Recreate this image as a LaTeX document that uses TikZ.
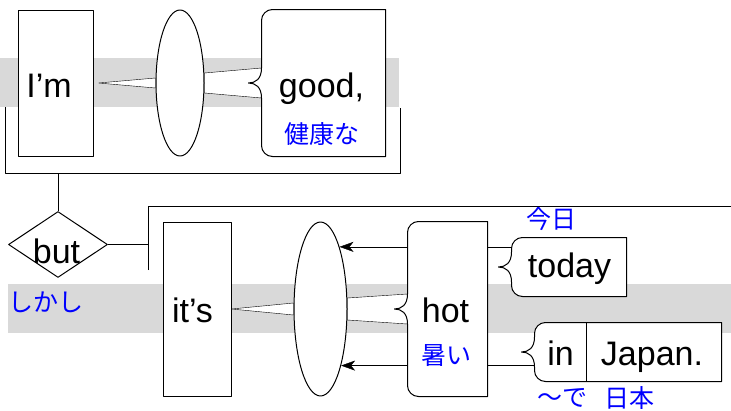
\documentclass[tikz,border=0pt]{standalone}
\usepackage{fontspec}
\setmainfont{Liberation Sans}
\newfontfamily\jafont{Noto Sans CJK JP}
\usetikzlibrary{shapes.geometric,arrows.meta,backgrounds}

\newcommand{\wordfont}{\fontsize{34}{40}\selectfont}
\newcommand{\glossfont}{\jafont\fontsize{25}{30}\selectfont}

% outline of a modifier box: rounded left corners, brace notch on the left
\newcommand{\bracebox}[2]{%
  \draw[fill=white] (#2.north east) -- ([xshift=11pt]#1.north west)
    to[out=180,in=90] ([yshift=-11pt]#1.north west)
    -- ([yshift=15pt]#1.west)
    .. controls ([yshift=4pt]#1.west) and ([xshift=-6pt]#1.west) .. ([xshift=-13pt]#1.west)
    .. controls ([xshift=-6pt]#1.west) and ([yshift=-4pt]#1.west) .. ([yshift=-15pt]#1.west)
    -- ([yshift=11pt]#1.south west)
    to[out=-90,in=180] ([xshift=11pt]#1.south west)
    -- (#2.south east) -- cycle;}

\tikzset{
  wordbox/.style={draw, fill=white, rectangle, inner sep=0pt},
  modbox/.style={rectangle, inner sep=0pt},
  joint/.style={draw, fill=white, ellipse, inner sep=0pt},
  conj/.style={draw, fill=white, diamond, inner sep=0pt},
  word/.style={font=\wordfont, inner sep=0pt, anchor=base},
  gloss/.style={font=\glossfont, text=blue, inner sep=0pt},
  band/.style={fill=black!15, draw=none},
  arr/.style={-{Stealth[length=14pt,width=10pt,inset=4pt]}},
}

\begin{document}
\begin{tikzpicture}[x=1pt,y=-1pt,line width=1pt,line join=round]
\useasboundingbox (0,0) rectangle (731,410);

% first clause
\node[wordbox, minimum width=75pt, minimum height=146pt] (im) at (55.5,83) {};
\node[joint, minimum width=48pt, minimum height=146pt] (el1) at (180,83) {};
\node[modbox, minimum width=123pt, minimum height=146pt] (gd) at (323.5,83) {};

\coordinate (clause1) at (5,173);
\draw (5,107) -- (clause1) -- (400.7,173) -- (400.7,108);

% conjunction
\node[conj, minimum width=99pt, minimum height=66pt] (cj) at (58,244.5) {};
\draw (cj.north) -- (cj.north |- clause1);

\coordinate (clause2) at (148,206);
\draw (148,270) -- (clause2) -- (731,206);
\draw (cj.east) -- (cj.east -| clause2);

% second clause
\node[wordbox, minimum width=68pt, minimum height=174pt] (its) at (197,309) {};
\node[joint, minimum width=53pt, minimum height=174pt] (el2) at (320.5,309) {};
\node[modbox, minimum width=79pt, minimum height=174pt] (hot) at (447.5,309) {};
\node[modbox, minimum width=114pt, minimum height=58pt] (tdy) at (569,267) {};
\node[modbox, minimum width=51pt, minimum height=58pt] (in) at (560.5,352) {};
\node[modbox, minimum width=135pt, minimum height=58pt] (jp) at (653.5,352) {};

\begin{scope}[on background layer, line width=1pt, line join=round]
  \fill[band] (0,58) rectangle (399,107);
  \fill[band] (8,284) rectangle (731,333);
  % subject -- verb -- complement
  \draw[fill=white] ([xshift=5pt]im.east) -- ([yshift=5pt]el1.west) -- ([yshift=-5pt]el1.west) -- cycle;
  \draw[fill=white] ([yshift=10pt]el1.east) -- ([yshift=15pt]gd.west) -- ([yshift=-15pt]gd.west) -- ([yshift=-10pt]el1.east) -- cycle;
  \draw[fill=white] (its.east) -- ([yshift=6pt]el2.west) -- ([yshift=-6pt]el2.west) -- cycle;
  \draw[fill=white] ([yshift=11pt]el2.east) -- ([yshift=15pt]hot.west) -- ([yshift=-15pt]hot.west) -- ([yshift=-11pt]el2.east) -- cycle;
  % modifiers
  \draw[arr] (el2.73 -| tdy.west) -- (el2.73);
  \draw[arr] (el2.-70 -| in.west) -- (el2.-70);
\end{scope}
\bracebox{gd}{gd}
\bracebox{hot}{hot}
\bracebox{tdy}{tdy}
\bracebox{in}{jp}
\draw (in.north east) -- (in.south east);

% words and glosses
\node[word] (tIm) at (49,97) {I’m};
\node[word] (tGood) at (321.5,97) {good,};
\node[gloss] (gGood) at (321.5,134.5) {健康な};
\node[word] (tBut) at (56.5,263) {but};
\node[gloss] (gBut) at (46,302.5) {しかし};
\node[word] (tIts) at (192.5,322) {it’s};
\node[word] (tHot) at (445.5,322) {hot};
\node[gloss] (gHot) at (446,355.5) {暑い};
\node[word] (tToday) at (569.5,277) {today};
\node[gloss] (gToday) at (551,219) {今日};
\node[word] (tIn) at (560.5,365) {in};
\node[word] (tJp) at (652,365) {Japan.};
\node[gloss] (gIn) at (562.5,398) {〜で};
\node[gloss] (gJp) at (629,398) {日本};
\end{tikzpicture}
\end{document}
